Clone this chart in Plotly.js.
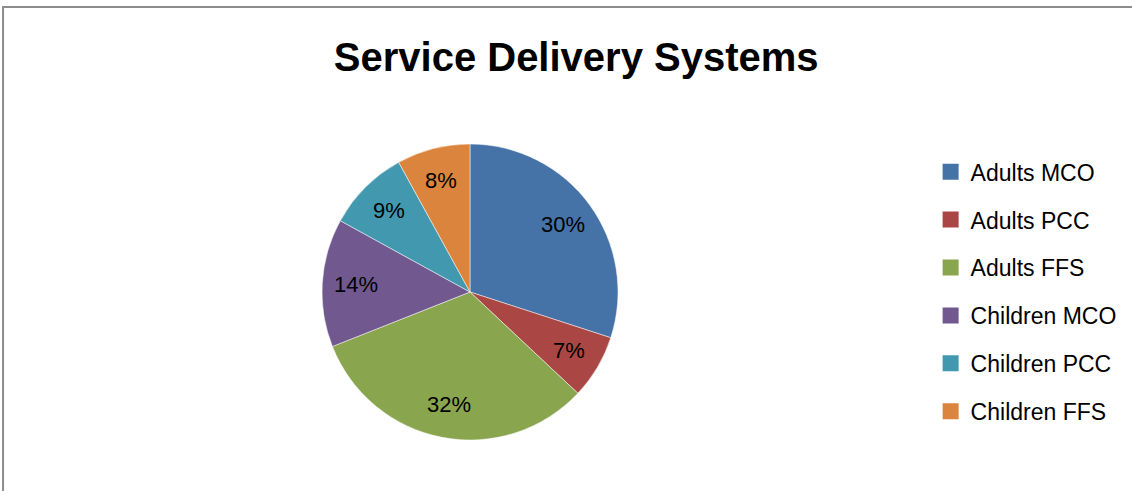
<!DOCTYPE html>
<html>
<head>
<meta charset="utf-8">
<script src="https://cdn.plot.ly/plotly-3.0.1.min.js"></script>
<style>html,body{margin:0;padding:0;background:#fff;}#chart{width:1132px;height:491px;}</style>
</head>
<body>
<div id="chart"></div>
<script>
var categories = ["Adults MCO", "Adults PCC", "Adults FFS", "Children MCO", "Children PCC", "Children FFS"];
var shares = [30, 7, 32, 14, 9, 8];
var colors = ["#4572A7", "#AA4643", "#89A54E", "#71588F", "#4198AF", "#DB843D"];
var chartTitle = "Service Delivery Systems";

var FONT = "Liberation Sans, Arial, sans-serif";
var W = 1132, H = 491;
var pieDomain = {x: [0.2652, 0.5652], y: [0.1039, 0.7067]};

var traces = [{
  type: "pie",
  labels: categories,
  values: shares,
  sort: false,
  direction: "clockwise",
  rotation: 0,
  marker: {colors: colors, line: {color: "#ffffff", width: 0.5}},
  textinfo: "none",
  domain: pieDomain,
  showlegend: false,
  hoverinfo: "label+percent"
}];

categories.forEach(function (c, i) {
  traces.push({
    type: "scatter",
    mode: "markers",
    x: [null], y: [null],
    name: c,
    legendgroup: "g" + i,
    marker: {symbol: "square", size: 16, color: colors[i]},
    hoverinfo: "skip"
  });
});

// percentage labels placed along each slice's bisector (derived from the data)
var total = shares.reduce(function (a, b) { return a + b; }, 0);
var cxPx = (pieDomain.x[0] + pieDomain.x[1]) / 2 * W;
var cyPx = (1 - (pieDomain.y[0] + pieDomain.y[1]) / 2) * H;
var Rpx = (pieDomain.y[1] - pieDomain.y[0]) * H / 2;
var labelR = 0.775 * Rpx;
var cum = 0;
var annotations = shares.map(function (v) {
  var theta = 2 * Math.PI * (cum + v / 2) / total;
  cum += v;
  var px = cxPx + labelR * Math.sin(theta);
  var py = cyPx - labelR * Math.cos(theta);
  return {
    xref: "paper", yref: "paper",
    x: px / W, y: 1 - py / H,
    xanchor: "center", yanchor: "middle",
    text: Math.round(v / total * 100) + "%",
    showarrow: false,
    font: {family: FONT, size: 22, color: "#000000"}
  };
});

var layout = {
  width: W,
  height: H,
  margin: {l: 0, r: 0, t: 0, b: 0},
  paper_bgcolor: "#ffffff",
  plot_bgcolor: "rgba(0,0,0,0)",
  xaxis: {visible: false, range: [0, 1], fixedrange: true},
  yaxis: {visible: false, range: [0, 1], fixedrange: true},
  title: {
    text: "<b>" + chartTitle + "</b>",
    font: {family: FONT, size: 40, color: "#000000"},
    x: 0.509, xanchor: "center",
    y: 0.883, yanchor: "middle"
  },
  showlegend: true,
  legend: {
    x: 0.8221, xanchor: "left",
    y: 0.694, yanchor: "top",
    font: {family: FONT, size: 23, color: "#000000"},
    tracegroupgap: 15,
    bgcolor: "rgba(0,0,0,0)"
  },
  annotations: annotations,
  shapes: [{
    type: "rect", xref: "paper", yref: "paper",
    x0: 0.0027, x1: 1.01, y0: -0.01, y1: 0.9857,
    line: {color: "#8c8c8c", width: 2}
  }]
};

Plotly.newPlot("chart", traces, layout, {displayModeBar: false, staticPlot: true});
</script>
</body>
</html>
